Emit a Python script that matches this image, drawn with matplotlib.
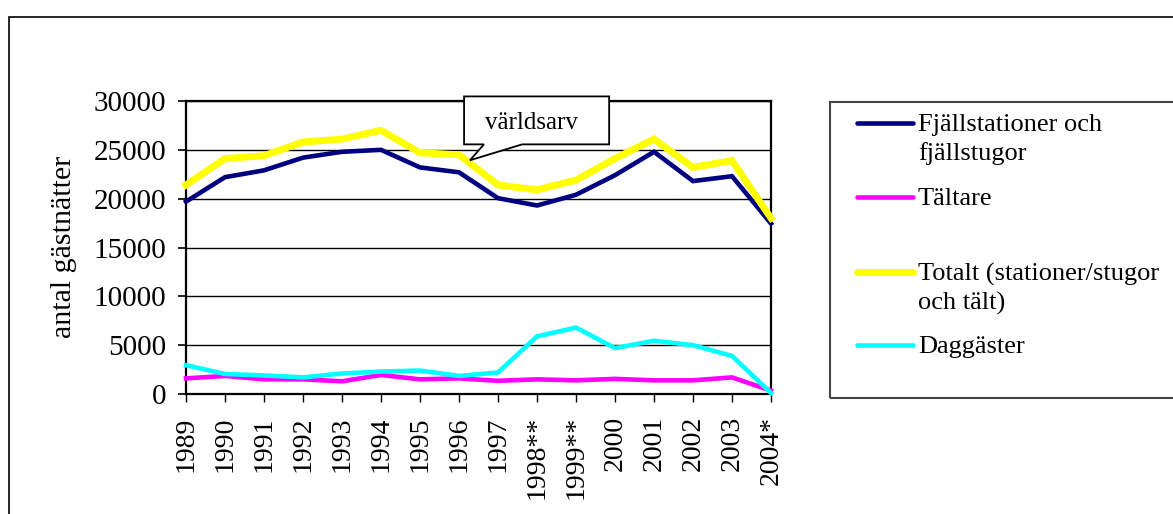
import matplotlib
matplotlib.use('Agg')
import matplotlib.pyplot as plt
from matplotlib.patches import Rectangle, Polygon
from matplotlib.lines import Line2D

plt.rcParams['font.family'] = ['Liberation Serif', 'DejaVu Serif']

# data
years = ['1989', '1990', '1991', '1992', '1993', '1994', '1995', '1996', '1997',
         '1998**', '1999**', '2000', '2001', '2002', '2003', '2004*']
fjall = [19700, 22200, 22900, 24200, 24800, 25000, 23200, 22700, 20050,
         19300, 20400, 22400, 24800, 21800, 22300, 17450]
taltare = [1600, 1850, 1500, 1500, 1300, 1950, 1500, 1600, 1350,
           1500, 1400, 1550, 1400, 1400, 1700, 350]
totalt = [21400, 24100, 24400, 25800, 26100, 27000, 24700, 24500, 21400,
          20900, 21900, 24100, 26100, 23200, 23900, 18000]
dag = [2950, 2050, 1900, 1700, 2100, 2300, 2400, 1850, 2200,
       5900, 6800, 4700, 5450, 5000, 3900, 100]

labels = ['Fjällstationer och\nfjällstugor', 'Tältare',
          'Totalt (stationer/stugor\noch tält)', 'Daggäster']
colors = ['#000080', '#FF00FF', '#FFFF00', '#00FFFF']
widths = [3.3, 3.3, 5.0, 3.3]
series = [fjall, taltare, totalt, dag]

W, H = 1173, 514
fig = plt.figure(figsize=(W/100, H/100), dpi=100)

# outer chart frame (runs off the right and bottom edge)
fig.patches.append(Rectangle((9/W, -0.1), 1.2, 1 - 17/H + 0.1, transform=fig.transFigure,
                             fill=False, edgecolor='black', lw=1.2))

ax = fig.add_axes([186/W, 1 - 394/H, 585/W, 293/H])
x = list(range(len(years)))
for s, c, w in zip(series, colors, widths):
    ax.plot(x, s, color=c, lw=w, solid_joinstyle='miter', clip_on=False, zorder=3)

ax.set_xlim(0, len(years) - 1)
ax.set_ylim(0, 30000)
ax.set_yticks(range(0, 30001, 5000))
ax.set_xticks(x)
ax.set_xticklabels(years, rotation=90, fontsize=20)
ax.tick_params(axis='y', labelsize=21, length=6, width=1.2, pad=8)
ax.tick_params(axis='x', length=6, width=1.0, pad=10)
ax.yaxis.grid(True, color='black', lw=1.0)
ax.set_axisbelow(True)
for sp in ax.spines.values():
    sp.set_linewidth(1.6)
    sp.set_color('black')

fig.text(64/W, 1 - 247/H, 'antal gästnätter', rotation=90, ha='center', va='center',
         fontsize=21.5)

# callout "världsarv"
bx0, bx1 = 7.13, 10.85
by0, by1 = 25560, 30470
callout = Polygon([(bx0, by1), (bx1, by1), (bx1, by0), (8.62, by0), (7.28, 23930),
                   (7.64, by0), (bx0, by0)], closed=True, facecolor='white',
                  edgecolor='black', lw=1.3, clip_on=False, zorder=5)
ax.add_patch(callout)
ax.text(8.85, 27700, 'världsarv', ha='center', va='center', fontsize=18,
        zorder=6, clip_on=False)

# legend box (cut off at right edge)
fig.patches.append(Rectangle((830/W, 1 - 398/H), 0.5, (398 - 102)/H,
                             transform=fig.transFigure, fill=False,
                             edgecolor='#444444', lw=1.5))
leg_y = [123, 197, 272, 345]
for lab, c, w, yy in zip(labels, colors, widths, leg_y):
    fy = 1 - yy/H
    fig.lines.append(Line2D([857/W, 913/W], [fy, fy], transform=fig.transFigure,
                            color=c, lw=w, solid_capstyle='round'))
    fig.text(918/W, fy + 9/H, lab, ha='left', va='top', fontsize=19, linespacing=1.35)

fig.savefig('out.png', dpi=100)
